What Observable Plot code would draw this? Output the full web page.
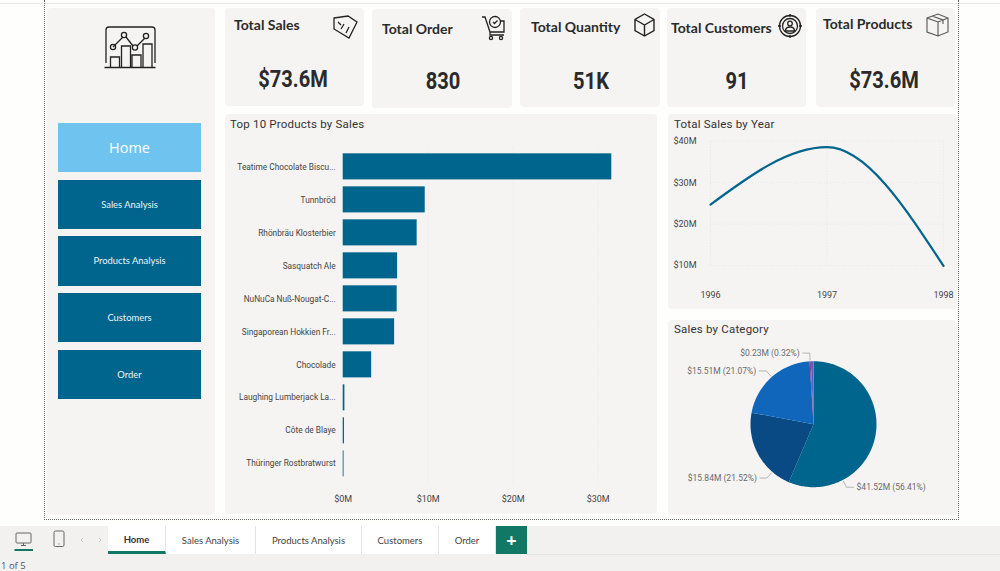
<!DOCTYPE html>
<html><head><meta charset="utf-8">
<script src="https://cdn.jsdelivr.net/npm/d3@7"></script>
<script src="https://cdn.jsdelivr.net/npm/@observablehq/plot@0.6"></script>
<style>
html,body{margin:0;padding:0;width:1000px;height:571px;overflow:hidden;background:#fefefd}
#page{position:relative;width:1000px;height:571px;font-family:Roboto,sans-serif;overflow:hidden}
.abs{position:absolute}
.panel{position:absolute;background:#f5f4f2;border-radius:4px}
.kt{position:absolute;font:700 14px Lato,sans-serif;color:#2b2b2b;white-space:nowrap;transform:translateY(-50%)}
.kv{position:absolute;font:700 24.5px Roboto,sans-serif;color:#2a2a2a;white-space:nowrap;transform:translate(-50%,-50%) scaleX(.82)}
.pt{position:absolute;font:400 11.5px Roboto,sans-serif;letter-spacing:.2px;color:#333;white-space:nowrap;transform:translateY(-50%)}
.btn{position:absolute;left:58px;width:143px;background:#00658c;color:#eaf6fb;display:flex;align-items:center;justify-content:center;font:9.4px Lato,sans-serif;box-sizing:border-box;padding-bottom:1px}
.tab{position:absolute;top:526px;height:28px;background:#fff;border-right:1px solid #e3e3e3;display:flex;align-items:center;justify-content:center;font:9.5px Lato,sans-serif;color:#444;box-sizing:border-box}
</style></head><body><div id="page"></div>
<script>
const kpiLabels=["Total Sales","Total Order","Total Quantity","Total Customers","Total Products"];
const kpiValues=["$73.6M","830","51K","91","$73.6M"];
const navLabels=["Home","Sales Analysis","Products Analysis","Customers","Order"];
const tabLabels=["Home","Sales Analysis","Products Analysis","Customers","Order"];
const products=["Teatime Chocolate Biscu...","Tunnbröd","Rhönbräu Klosterbier","Sasquatch Ale","NuNuCa Nuß-Nougat-C...","Singaporean Hokkien Fr...","Chocolade","Laughing Lumberjack La...","Côte de Blaye","Thüringer Rostbratwurst"];
const productSales=[31.6,9.65,8.7,6.4,6.35,6.05,3.35,0.2,0.15,0.1];
const years=[1996,1997,1998];
const yearSales=[24.7,38.55,9.9];
const categorySales=[41.52,15.84,15.51,0.23,0.50];
const categoryShares=[56.41,21.52,21.07,0.32,0.68];
const categoryColors=["#00658c","#0a4a84","#0f66ba","#8a3a86","#5b62c4"];

const page=document.getElementById("page");
function el(cls,css,txt){const d=document.createElement("div");d.className=cls;Object.assign(d.style,css);if(txt!=null)d.textContent=txt;page.appendChild(d);return d;}
function box(x0,y0,x1,y1){return{left:x0+"px",top:y0+"px",width:(x1-x0)+"px",height:(y1-y0)+"px"};}

// chrome
el("abs",{...box(0,3,1000,4),background:"#e9e9e8"});
el("abs",{...box(44,0,959,520),border:"1px dotted #666",borderTop:"none",boxSizing:"border-box"});
el("panel",box(47,8,215,515));
const cardBoxes=[[225,8,364,106],[372,9,512,108],[520,8,660,107],[667,8,806,107],[816,8,955,107]];
const titlePos=[[234,24],[382,27.5],[531,26],[671,26.5],[823,23]];
const valuePos=[[292.5,78],[442.5,80],[591,80],[737,80],[884,78.5]];
kpiLabels.forEach((t,i)=>{
  el("panel",box(...cardBoxes[i]));
  el("kt",{left:titlePos[i][0]+"px",top:titlePos[i][1]+"px"},t);
  el("kv",{left:valuePos[i][0]+"px",top:valuePos[i][1]+"px"},kpiValues[i]);
});
el("panel",box(225,114,657,514));
el("panel",box(668,114,957,309));
el("panel",box(668,320,957,515));
el("pt",{left:"230px",top:"124px"},"Top 10 Products by Sales");
el("pt",{left:"674px",top:"124px"},"Total Sales by Year");
el("pt",{left:"674px",top:"329px"},"Sales by Category");

// nav
const navTops=[[123,172],[180,229],[236,286],[293,342],[350,399]];
navLabels.forEach((t,i)=>{
  const b=el("btn",{top:navTops[i][0]+"px",height:(navTops[i][1]-navTops[i][0])+"px"},t);
  if(i===0){b.style.background="#6fc3ef";b.style.font='14.5px "Open Sans",sans-serif';b.style.color="#fff";}
});

// tabs
el("abs",{...box(0,526,1000,571),background:"#f2f1f0"});
el("abs",{...box(527,554,1000,555),background:"#e6e5e4"});
el("abs",{left:"1px",top:"559px",font:'9.5px "Open Sans",sans-serif',color:"#555"},"1 of 5");
const tabEdges=[108,166,256,362,439,496];
tabLabels.forEach((t,i)=>{
  const b=el("tab",{left:tabEdges[i]+"px",width:(tabEdges[i+1]-tabEdges[i])+"px"},t);
  if(i===0){b.style.fontWeight="700";b.style.borderBottom="3px solid #117865";b.style.color="#333";b.style.paddingTop="2px";}
});
el("abs",{...box(496,526,527,554),background:"#117865",color:"#fff",display:"flex",alignItems:"center",justifyContent:"center",font:'700 18px "Open Sans",sans-serif'},"+");

// icons
const ic=document.createElementNS("http://www.w3.org/2000/svg","svg");
ic.setAttribute("width",1000);ic.setAttribute("height",571);
ic.style.cssText="position:absolute;left:0;top:0;pointer-events:none";
ic.innerHTML=`
<g fill="none" stroke="#222" stroke-width="1.3">
 <path d="M106 63V30q0-3 3-3h43q3 0 3 3v33" />
 <path d="M104.500 67.500H155.500" stroke-width="1.6"/>
 <path d="M110.500 67V57h9v10M121.500 67V46h9v21M132 67V55h9v12M143 67V44h9v23"/>
 <path d="M113 47L123 37M126 37L133 46M137 46L145 38"/>
 <circle cx="113" cy="47" r="2.6"/><circle cx="124" cy="35" r="2.6"/><circle cx="135" cy="47.500" r="2.6"/><circle cx="146" cy="36" r="2.6"/>
 <path d="M334 18l14-2 9 6-8 16-15-9zM338 22l3 3M349 27l-3 6M344 24l-3 5" />
 <path d="M482 17h3l5 15h14v-11h-4M490 32v3h14" /><circle cx="495" cy="22" r="5.500"/><path d="M493 22l1.500 1.500 3-3"/>
 <circle cx="491" cy="38" r="1.600"/><circle cx="501" cy="38" r="1.600"/>
 <path d="M644.500 14l9.500 5.500v11l-9.500 5.500-9.500-5.500v-11zM635 19.500l9.500 5.500 9.500-5.500M644.500 25v11" stroke-width="1.4"/>
 <circle cx="790" cy="26" r="10.500"/><circle cx="790" cy="26" r="7.500"/><circle cx="790" cy="23.500" r="2.300"/><path d="M785.500 31q0-4 4.500-4t4.500 4zM790 14v3M790 35v3M778 26h3M799 26h3"/>
 <path stroke="#555" stroke-width="1.100" d="M927 18l11-4 10 4v14l-10 4-11-4zM927 18l11 4 10-4M938 22v14M932 16l11 4v4"/>
</g>
<g fill="none" stroke="#666" stroke-width="1">
 <rect x="16" y="533" width="15" height="10" rx="1"/><path d="M21 545.500h5M23.500 543v2.500"/>
 <rect x="54" y="531" width="10" height="15.500" rx="1.500"/><path d="M58.500 544h1"/>
 <path stroke="#c4c4c4" d="M83 538l-2 2 2 2M99 538l2 2-2 2"/>
 <path stroke="#117865" stroke-width="2" d="M14.500 550H33"/>
</g>`;
page.appendChild(ic);

function place(plot,x,y){plot.style.position="absolute";plot.style.left=x+"px";plot.style.top=y+"px";page.appendChild(plot);}
const fmtM=d=>`$${d}M`;
const axisFont='Roboto,sans-serif';
const barColor="#00658c";
const gridStyle={stroke:"#d9d9d9",strokeOpacity:0.45,strokeDasharray:"1 2"};

// bar chart
const rows=products.map((p,i)=>({product:p,sales:productSales[i]}));
place(Plot.plot({
  width:432,height:400,marginLeft:117.7,marginRight:16.8,marginTop:32.4,marginBottom:30.7,
  style:{background:"transparent",fontFamily:axisFont,fontSize:"9px",color:"#555",overflow:"visible"},
  x:{domain:[0,35]},
  y:{domain:products,padding:0.21,round:false},
  marks:[
    Plot.gridX([10,20,30],gridStyle),
    Plot.barX(rows,{x:"sales",y:"product",fill:barColor}),
    Plot.axisY({tickSize:0,tickPadding:7.5,label:null,fill:"#444",fontSize:8.3}),
    Plot.axisX({ticks:[0,10,20,30],tickSize:0,tickPadding:11.5,tickFormat:fmtM,label:null,fill:"#444"})
  ]
}),225,114);

// line chart
const yearRows=years.map((y,i)=>({year:y,sales:yearSales[i]}));
place(Plot.plot({
  width:289,height:195,marginLeft:42,marginRight:14,marginTop:26.7,marginBottom:44,
  style:{background:"transparent",fontFamily:axisFont,fontSize:"9px",color:"#555",overflow:"visible"},
  x:{domain:[1996,1998]},
  y:{domain:[10,40]},
  marks:[
    Plot.gridX(years,gridStyle),
    Plot.gridY([10,20,30,40],gridStyle),
    Plot.line(yearRows,{x:"year",y:"sales",stroke:barColor,strokeWidth:2.2,curve:"monotone-x"}),
    Plot.axisY({ticks:[10,20,30,40],tickSize:0,tickPadding:14,tickFormat:fmtM,label:null,fill:"#444"}),
    Plot.axisX({ticks:years,tickSize:0,tickPadding:26,tickFormat:d=>String(d),label:null,fill:"#444"})
  ]
}),668,114);

// pie chart: slice outlines computed from the values, drawn as filled Plot lines
const W=289,H=195,cx=145,cy=103.7,R=63;
const px=1/R;
const total=d3.sum(categoryShares);
let acc=0;
const arcs=categoryShares.map((s,i)=>{const a0=acc/total*2*Math.PI;acc+=s;return{i,a0,a1:acc/total*2*Math.PI};});
const slicePts=[];
arcs.forEach(a=>{
  slicePts.push({s:a.i,x:0,y:0});
  const n=Math.max(2,Math.ceil((a.a1-a.a0)/0.02));
  for(let k=0;k<=n;k++){const t=a.a0+(a.a1-a.a0)*k/n;slicePts.push({s:a.i,x:Math.sin(t),y:Math.cos(t)});}
  slicePts.push({s:a.i,x:0,y:0});
});
// where along each labelled slice its leader leaves the pie
const leaderAlong=[0.75,0.23,0.5,0.5];
const leaderPts=[],labelRows=[];
leaderAlong.forEach((f,i)=>{
  const a=arcs[i],t=a.a0+(a.a1-a.a0)*f,sx=Math.sin(t),cy_=Math.cos(t),dir=sx>=0?1:-1;
  const ex=sx*1.13,ey=cy_*1.13;
  leaderPts.push({s:i,x:sx*1.02,y:cy_*1.02},{s:i,x:ex,y:ey},{s:i,x:ex+dir*7*px,y:ey});
  labelRows.push({x:ex+dir*10*px,y:ey,text:`$${categorySales[i].toFixed(2)}M (${categoryShares[i].toFixed(2)}%)`,anchor:dir>0?"start":"end"});
});
place(Plot.plot({
  width:W,height:H,margin:0,
  style:{background:"transparent",fontFamily:axisFont,fontSize:"9px",overflow:"visible"},
  x:{domain:[-cx/R,(W-cx)/R],range:[0,W],axis:null},
  y:{domain:[-(H-cy)/R,cy/R],range:[H,0],axis:null},
  color:{domain:d3.range(categoryColors.length),range:categoryColors},
  marks:[
    Plot.line(slicePts,{x:"x",y:"y",z:"s",fill:"s",stroke:null,curve:"linear"}),
    Plot.line(leaderPts,{x:"x",y:"y",z:"s",stroke:"#a6a6a6",strokeWidth:0.8,curve:"linear"}),
    Plot.text(labelRows.filter(d=>d.anchor==="start"),{x:"x",y:"y",text:"text",textAnchor:"start",fill:"#6b6b6b",dy:0.5,fontSize:8.5}),
    Plot.text(labelRows.filter(d=>d.anchor==="end"),{x:"x",y:"y",text:"text",textAnchor:"end",fill:"#6b6b6b",dy:0.5,fontSize:8.5})
  ]
}),668,320);
</script></body></html>
